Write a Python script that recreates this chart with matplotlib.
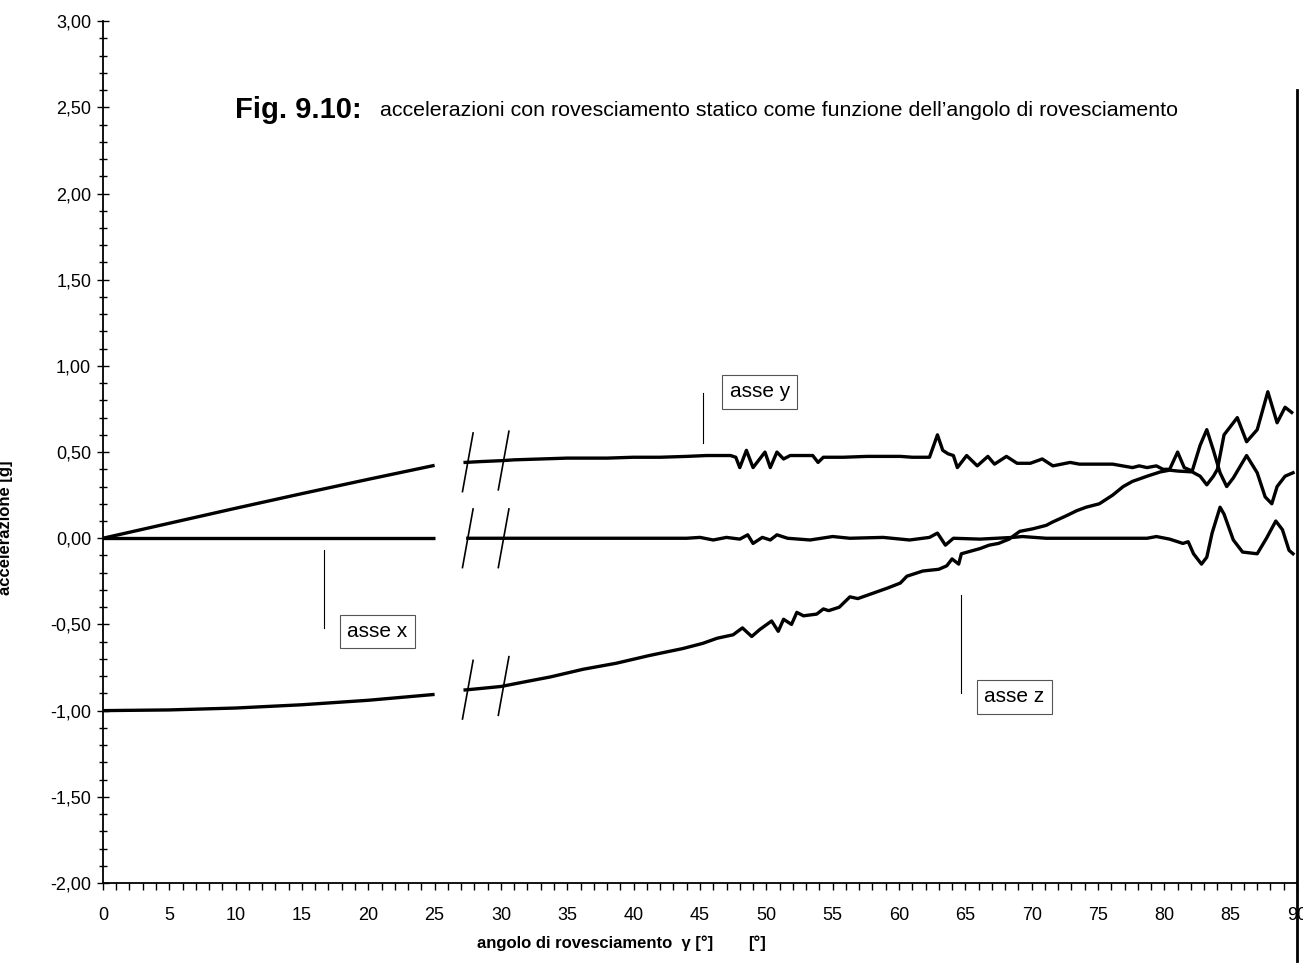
import matplotlib
matplotlib.use('Agg')
import matplotlib.pyplot as plt
from matplotlib.ticker import MultipleLocator, FuncFormatter
import numpy as np

# theoretical part 0-25 deg
theo_angle = [0, 5, 10, 15, 20, 25]
theo_y = [0.0, 0.087, 0.174, 0.259, 0.342, 0.423]
theo_x = [0.0, 0.0, 0.0, 0.0, 0.0, 0.0]
theo_z = [-1.0, -0.996, -0.985, -0.966, -0.940, -0.906]

# measured part, asse y
meas_y_angle = [27.3, 28.5, 30, 31, 33, 35, 38, 40, 42, 44, 45.5, 47.3, 47.7, 48.0, 48.5,
                49.0, 49.5, 49.9, 50.3, 50.8, 51.3, 51.8, 53.5, 53.9, 54.3, 55.8, 57.6,
                60.1, 61.0, 62.3, 62.9, 63.3, 63.7, 64.1, 64.4, 65.1, 65.9, 66.7, 67.2,
                68.1, 68.9, 69.9, 70.8, 71.6, 72.9, 73.6, 76.1, 77.6, 78.1, 78.7, 79.4,
                79.9, 80.4, 81.0, 81.5, 82.1, 82.7, 83.2, 83.7, 84.2, 84.7, 85.2, 86.2,
                87.0, 87.6, 88.1, 88.5, 89.1, 89.7]
meas_y = [0.44, 0.445, 0.45, 0.455, 0.46, 0.465, 0.465, 0.47, 0.47, 0.475, 0.48, 0.48, 0.47,
          0.41, 0.51, 0.41, 0.46, 0.50, 0.41, 0.50, 0.46, 0.48, 0.48, 0.44, 0.47, 0.47,
          0.475, 0.475, 0.47, 0.47, 0.60, 0.51, 0.49, 0.48, 0.41, 0.48, 0.42, 0.475, 0.43,
          0.475, 0.435, 0.435, 0.46, 0.42, 0.44, 0.43, 0.43, 0.41, 0.42, 0.41, 0.42, 0.40,
          0.40, 0.50, 0.41, 0.39, 0.54, 0.63, 0.51, 0.38, 0.30, 0.35, 0.48, 0.38, 0.24,
          0.20, 0.30, 0.36, 0.38]

# measured part, asse x
meas_x_angle = [27.5, 44, 45, 46, 47, 48, 48.6, 49.0, 49.7, 50.3, 50.8, 51.6, 53.3, 55.0,
                56.3, 58.8, 60.8, 62.3, 62.9, 63.5, 64.1, 66.1, 68.6, 69.3, 71.1, 78.7,
                79.4, 80.4, 81.4, 81.8, 82.2, 82.8, 83.2, 83.6, 84.2, 84.5, 85.2, 85.9,
                87.0, 87.7, 88.4, 88.9, 89.4, 89.7]
meas_x = [0.0, 0.0, 0.005, -0.01, 0.005, -0.005, 0.02, -0.03, 0.005, -0.01, 0.02, 0.0,
          -0.01, 0.01, 0.0, 0.005, -0.01, 0.005, 0.03, -0.04, 0.0, -0.005, 0.005, 0.01,
          0.0, 0.0, 0.01, -0.005, -0.03, -0.02, -0.09, -0.15, -0.11, 0.03, 0.18, 0.14,
          -0.01, -0.08, -0.09, 0.0, 0.10, 0.05, -0.07, -0.09]

# measured part, asse z
meas_z_angle = [27.3, 28, 30, 32, 33.7, 36.2, 38.7, 41.2, 43.7, 45.2, 46.3, 47.5, 48.2,
                48.9, 49.5, 50.4, 50.9, 51.3, 51.9, 52.3, 52.8, 53.8, 54.3, 54.7, 55.5,
                56.3, 56.9, 58.0, 59.1, 60.1, 60.6, 61.8, 63.0, 63.6, 64.0, 64.5, 64.7,
                66.1, 66.8, 67.5, 68.3, 69.1, 70.1, 71.1, 71.6, 72.6, 73.4, 74.1, 75.1,
                76.1, 76.9, 77.6, 78.7, 79.7, 80.4, 81.0, 82.1, 82.7, 83.2, 83.7, 84.0,
                84.5, 85.5, 86.2, 87.0, 87.8, 88.5, 89.1, 89.6]
meas_z = [-0.88, -0.875, -0.86, -0.83, -0.805, -0.76, -0.725, -0.68, -0.64, -0.61, -0.58,
          -0.56, -0.52, -0.57, -0.53, -0.48, -0.54, -0.47, -0.50, -0.43, -0.45, -0.44,
          -0.41, -0.42, -0.40, -0.34, -0.35, -0.32, -0.29, -0.26, -0.22, -0.19, -0.18,
          -0.16, -0.12, -0.15, -0.09, -0.06, -0.04, -0.03, -0.005, 0.04, 0.055, 0.075,
          0.095, 0.13, 0.16, 0.18, 0.20, 0.25, 0.30, 0.33, 0.36, 0.385, 0.395, 0.39,
          0.385, 0.36, 0.31, 0.36, 0.40, 0.60, 0.70, 0.56, 0.63, 0.85, 0.67, 0.76, 0.73]

# the spike when the vehicle tips over at 90 deg
spike_angle = [90, 90]
spike_acc = [2.60, -2.45]

break_angles = [27.5, 30.2]

labels = [
    # text, line x, line y0, line y1, text x, text y
    ('asse y', 45.2, 0.55, 0.84, 49.5, 0.85),
    ('asse x', 16.65, -0.07, -0.52, 20.7, -0.54),
    ('asse z', 64.65, -0.33, -0.90, 68.7, -0.92),
]

fam = ['Liberation Sans', 'DejaVu Sans']
plt.rcParams['font.family'] = fam

fig = plt.figure(figsize=(13.03, 9.63), dpi=100)
ax = fig.add_axes([0.079, 0.0831, 0.9164, 0.8949])

lw = 2.4
style = dict(color='black', lw=lw, solid_joinstyle='round')
for ys in (theo_y, theo_x, theo_z):
    ax.plot(theo_angle, ys, solid_capstyle='butt', **style)
ax.plot(meas_y_angle, meas_y, **style)
ax.plot(meas_x_angle, meas_x, **style)
ax.plot(meas_z_angle, meas_z, **style)
ax.plot(spike_angle, spike_acc, color='black', lw=2.0, clip_on=False)

# break marks
for a_s, vals in ((meas_y_angle, meas_y), (meas_x_angle, meas_x), (meas_z_angle, meas_z)):
    for b in break_angles:
        v = np.interp(b, a_s, vals)
        ax.plot([b - 0.4, b + 0.4], [v - 0.17, v + 0.17], color='black', lw=1.2)

for txt, lx, ly0, ly1, tx, ty in labels:
    ax.plot([lx, lx], [ly0, ly1], color='black', lw=0.8)
    ax.text(tx, ty, txt, fontsize=15, ha='center', va='center',
            bbox=dict(boxstyle='square,pad=0.35', fc='white', ec='#555555', lw=0.8))

ax.set_xlim(0, 90)
ax.set_ylim(-2, 3)
ax.spines['top'].set_visible(False)
ax.spines['right'].set_visible(False)
ax.spines['left'].set_linewidth(1.3)
ax.spines['bottom'].set_linewidth(1.3)

ax.xaxis.set_major_locator(MultipleLocator(5))
ax.xaxis.set_minor_locator(MultipleLocator(1))
ax.yaxis.set_major_locator(MultipleLocator(0.5))
ax.yaxis.set_minor_locator(MultipleLocator(0.1))
ax.yaxis.set_major_formatter(FuncFormatter(lambda v, p: '{:.2f}'.format(v).replace('.', ',')))
ax.tick_params(axis='x', which='both', direction='out', length=5, width=1, labelsize=13, pad=12)
ax.tick_params(axis='y', which='major', direction='inout', length=9, width=1, labelsize=13, pad=4)
ax.tick_params(axis='y', which='minor', direction='inout', length=6, width=1)

fig.text(235 / 1303, 1 - 110 / 963, 'Fig. 9.10:', fontsize=21, fontweight='bold',
         ha='left', va='center')
fig.text(380 / 1303, 1 - 110 / 963,
         "accelerazioni con rovesciamento statico come funzione dell\u2019angolo di rovesciamento",
         fontsize=15.4, ha='left', va='center')

fig.text(595 / 1303, 1 - 943 / 963, 'angolo di rovesciamento  \u03b3 [\u00b0]',
         fontsize=12, fontweight='bold', ha='center', va='center')
fig.text(757 / 1303, 1 - 943 / 963, '[\u00b0]',
         fontsize=12, fontweight='bold', ha='center', va='center')
fig.text(0.004, 1 - 528 / 963, 'accelerazione [g]', fontsize=12, fontweight='bold',
         rotation=90, ha='center', va='center')

fig.savefig('out.png', dpi=100)
